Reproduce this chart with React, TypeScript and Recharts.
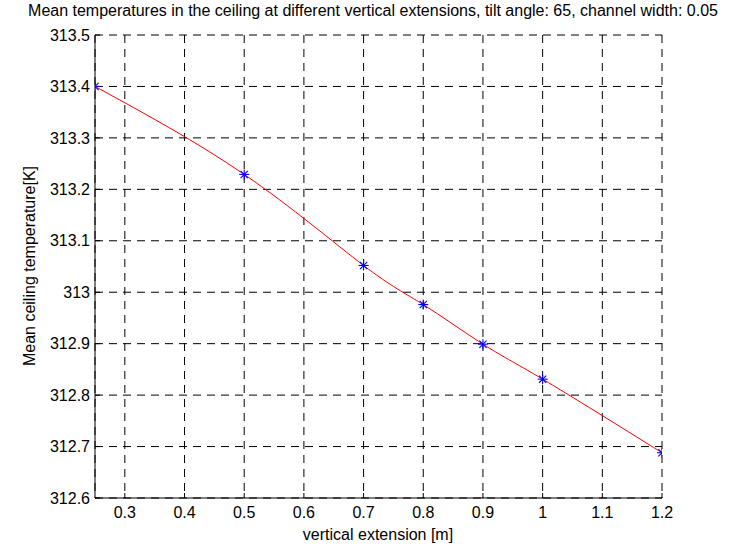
import React from 'react';
import {
  LineChart,
  Line,
  XAxis,
  YAxis,
  CartesianGrid,
} from 'recharts';

const extensions = [0.25, 0.5, 0.7, 0.8, 0.9, 1.0, 1.2];
const meanTemps = [313.4, 313.229, 313.052, 312.976, 312.899, 312.831, 312.688];
const xTicks = [0.3, 0.4, 0.5, 0.6, 0.7, 0.8, 0.9, 1.0, 1.1, 1.2];
const yTicks = [312.6, 312.7, 312.8, 312.9, 313.0, 313.1, 313.2, 313.3, 313.4, 313.5];

const data = extensions.map((x, i) => ({ x, temp: meanTemps[i] }));

const FONT = '"Liberation Sans", Arial, Helvetica, sans-serif';
const fmt = (v: number) => String(Number(v.toFixed(2)));

// matlab-style '*' marker
const Asterisk = (props: any) => {
  const { cx, cy } = props;
  if (cx == null || cy == null) return null;
  const r = 5;
  const d = 3.6;
  return (
    <g stroke="#0000ff" strokeWidth={1.1}>
      <line x1={cx - r} y1={cy} x2={cx + r} y2={cy} />
      <line x1={cx} y1={cy - r} x2={cx} y2={cy + r} />
      <line x1={cx - d} y1={cy - d} x2={cx + d} y2={cy + d} />
      <line x1={cx - d} y1={cy + d} x2={cx + d} y2={cy - d} />
    </g>
  );
};

export default function App() {
  const tickStyle = { fontSize: 16, fill: '#000', fontFamily: FONT };
  return (
    <div style={{ position: 'absolute', left: 0, top: 0, width: 735, height: 548, background: '#fff', fontFamily: FONT }}>
      <div
        style={{
          position: 'absolute',
          left: 0,
          width: 746,
          top: 2,
          textAlign: 'center',
          fontSize: 16,
          color: '#000',
          whiteSpace: 'nowrap',
        }}
      >
        Mean temperatures in the ceiling at different vertical extensions, tilt angle: 65, channel width: 0.05
      </div>
      <LineChart
        width={735}
        height={548}
        data={data}
        margin={{ top: 35, right: 73, left: 0, bottom: 0 }}
      >
        <CartesianGrid stroke="#000" strokeDasharray="8 6" strokeWidth={1} />
        <XAxis
          dataKey="x"
          type="number"
          domain={[0.25, 1.2]}
          ticks={xTicks}
          tickFormatter={fmt}
          height={50}
          tickSize={-5}
          tickMargin={14}
          axisLine={{ stroke: '#000' }}
          tickLine={{ stroke: '#000' }}
          tick={tickStyle}
          allowDataOverflow
          label={{
            content: () => (
              <text x={378} y={540} textAnchor="middle" fontSize={16} fontFamily={FONT} fill="#000">
                vertical extension [m]
              </text>
            ),
          }}
        />
        <XAxis
          xAxisId="top"
          orientation="top"
          dataKey="x"
          type="number"
          domain={[0.25, 1.2]}
          ticks={xTicks}
          height={0}
          tickSize={-5}
          tickFormatter={() => ''}
          axisLine={{ stroke: '#000' }}
          tickLine={{ stroke: '#000' }}
          allowDataOverflow
        />
        <YAxis
          type="number"
          domain={[312.6, 313.5]}
          ticks={yTicks}
          tickFormatter={fmt}
          width={95}
          tickSize={-5}
          tickMargin={10}
          axisLine={{ stroke: '#000' }}
          tickLine={{ stroke: '#000' }}
          tick={tickStyle}
          allowDataOverflow
          label={{
            content: () => (
              <text
                x={35}
                y={266}
                transform="rotate(-90 35 266)"
                textAnchor="middle"
                fontSize={16}
                fontFamily={FONT}
                fill="#000"
              >
                Mean ceiling temperature[K]
              </text>
            ),
          }}
        />
        <YAxis
          yAxisId="right"
          orientation="right"
          type="number"
          domain={[312.6, 313.5]}
          ticks={yTicks}
          width={0}
          tickSize={-5}
          tickFormatter={() => ''}
          axisLine={{ stroke: '#000' }}
          tickLine={{ stroke: '#000' }}
          allowDataOverflow
        />
        <Line
          dataKey="temp"
          stroke="none"
          dot={<Asterisk />}
          activeDot={false}
          isAnimationActive={false}
        />
        <Line
          dataKey="temp"
          type="natural"
          stroke="#ff0000"
          strokeWidth={1}
          dot={false}
          activeDot={false}
          isAnimationActive={false}
        />
      </LineChart>
    </div>
  );
}
